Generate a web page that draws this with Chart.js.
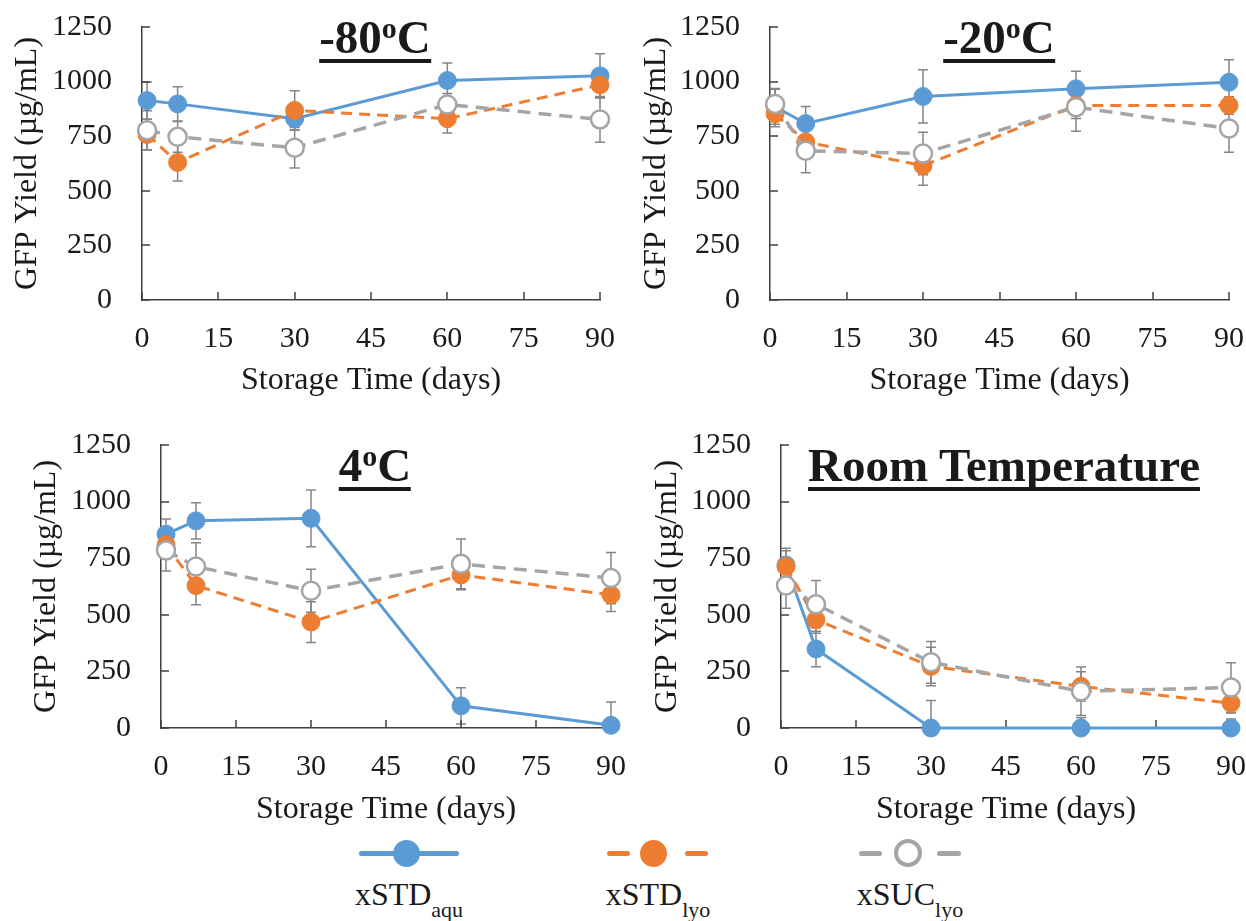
<!DOCTYPE html>
<html><head><meta charset="utf-8">
<script src="https://cdn.jsdelivr.net/npm/chart.js@4.4.0/dist/chart.umd.min.js"></script>
<style>
html,body{margin:0;padding:0;background:#fff;}
#wrap{position:relative;width:1246px;height:921px;overflow:hidden;font-family:'Liberation Serif','Times New Roman',serif;color:#1a1a1a;}
canvas{position:absolute;}
.ttl{position:absolute;font-weight:bold;font-size:47px;line-height:43px;white-space:nowrap;border-bottom:4px solid #1a1a1a;transform:translateX(-50%);}
.ttl sup{font-size:30px;line-height:0;vertical-align:15px;}
.lg{position:absolute;font-size:32px;line-height:32px;white-space:nowrap;transform:translateX(-50%);}
.lg sub{font-size:22px;line-height:0;vertical-align:-12px;}
.sym{position:absolute;box-sizing:border-box;}
</style>
</head><body>
<div id="wrap">
  <canvas id="c1"></canvas><canvas id="c2"></canvas><canvas id="c3"></canvas><canvas id="c4"></canvas>
  <div class="ttl" style="left:375px;top:16px;">-80<sup>o</sup>C</div>
  <div class="ttl" style="left:999px;top:16px;">-20<sup>o</sup>C</div>
  <div class="ttl" style="left:375px;top:444px;">4<sup>o</sup>C</div>
  <div class="ttl" style="left:1004px;top:444px;">Room Temperature</div>

  <div class="sym" style="left:359px;top:850.5px;width:100px;height:5px;border-radius:2.5px;background:#5B9BD5;"></div>
  <div class="sym" style="left:393px;top:839.5px;width:27px;height:27px;border-radius:50%;background:#5B9BD5;"></div>
  <div class="sym" style="left:607px;top:850.5px;width:23px;height:5px;border-radius:2.5px;background:#ED7D31;"></div>
  <div class="sym" style="left:685px;top:850.5px;width:23px;height:5px;border-radius:2.5px;background:#ED7D31;"></div>
  <div class="sym" style="left:639.5px;top:839.5px;width:27px;height:27px;border-radius:50%;background:#ED7D31;"></div>
  <div class="sym" style="left:859px;top:850.5px;width:23px;height:5px;border-radius:2.5px;background:#A5A5A5;"></div>
  <div class="sym" style="left:937px;top:850.5px;width:24px;height:5px;border-radius:2.5px;background:#A5A5A5;"></div>
  <div class="sym" style="left:894px;top:839px;width:28px;height:28px;border-radius:50%;background:#fff;border:4px solid #A5A5A5;"></div>

  <div class="lg" style="left:409px;top:878px;">xSTD<sub>aqu</sub></div>
  <div class="lg" style="left:658px;top:878px;">xSTD<sub>lyo</sub></div>
  <div class="lg" style="left:910px;top:878px;">xSUC<sub>lyo</sub></div>
</div>
<script>
// ---- data ----
const days = [1, 7, 30, 60, 90];
const xTickValues = [0, 15, 30, 45, 60, 75, 90];
const yTickValues = [0, 250, 500, 750, 1000, 1250];
const xAxisTitle = 'Storage Time (days)';
const yAxisTitle = 'GFP Yield (µg/mL)';

// -80 °C
const aqu80 = [913, 898, 830, 1005, 1027];
const aqu80Err = [85, 78, 53, 80, 100];
const lyo80 = [758, 630, 868, 830, 985];
const lyo80Err = [70, 85, 90, 65, 60];
const suc80 = [777, 747, 697, 895, 827];
const suc80Err = [90, 70, 93, 50, 105];

// -20 °C
const aqu20 = [885, 808, 932, 967, 997];
const aqu20Err = [80, 78, 122, 80, 103];
const lyo20 = [853, 724, 615, 891, 891];
const lyo20Err = [60, 70, 90, 60, 40];
const suc20 = [898, 683, 671, 883, 785];
const suc20Err = [70, 100, 97, 110, 109];

// 4 °C
const aqu4 = [856, 915, 926, 98, 12];
const aqu4Err = [67, 80, 125, 80, 103];
const lyo4 = [809, 629, 468, 676, 588];
const lyo4Err = [60, 85, 90, 65, 73];
const suc4 = [784, 713, 606, 725, 662];
const suc4Err = [90, 105, 95, 110, 113];

// Room temperature
const aquRT = [720, 349, 0, 0, 0];
const aquRTErr = [74, 78, 122, 45, 40];
const lyoRT = [713, 478, 272, 184, 110];
const lyoRTErr = [70, 60, 85, 65, 44];
const sucRT = [629, 547, 290, 162, 179];
const sucRTErr = [100, 104, 92, 107, 109];

// ---- layout / style ----
const FONT = "'Liberation Serif','Times New Roman',serif";
const TXT = '#1a1a1a';
const AXIS = '#404040';
const BLUE = '#5B9BD5', ORANGE = '#ED7D31', GRAY = '#A5A5A5';

const panels = [
  {id:'c1', canvas:[0,0,620,400], area:[142,27,600,300], yTitleX:28, xTitleY:381,
   series:[[aqu80,aqu80Err],[lyo80,lyo80Err],[suc80,suc80Err]]},
  {id:'c2', canvas:[620,0,626,400], area:[770,27,1229,300], yTitleX:657, xTitleY:381,
   series:[[aqu20,aqu20Err],[lyo20,lyo20Err],[suc20,suc20Err]]},
  {id:'c3', canvas:[0,410,640,420], area:[161,445,611,728], yTitleX:47, xTitleY:810,
   series:[[aqu4,aqu4Err],[lyo4,lyo4Err],[suc4,suc4Err]]},
  {id:'c4', canvas:[640,410,606,420], area:[781,445,1231,728], yTitleX:668, xTitleY:810,
   series:[[aquRT,aquRTErr],[lyoRT,lyoRTErr],[sucRT,sucRTErr]]},
];

const errorBars = {
  id:'errorBars',
  beforeDatasetsDraw(chart){
    const {ctx, chartArea:a, scales:{x, y}} = chart;
    ctx.save();
    ctx.beginPath();
    ctx.rect(a.left-30, a.top-60, a.right-a.left+60, a.bottom-a.top+60);
    ctx.clip();
    ctx.strokeStyle = '#858585';
    ctx.lineWidth = 1.5;
    chart.data.datasets.forEach(ds => {
      ds.data.forEach((p, i) => {
        const e = ds.errors[i];
        const px = x.getPixelForValue(p.x);
        const t = y.getPixelForValue(p.y + e), b = y.getPixelForValue(p.y - e);
        ctx.beginPath();
        ctx.moveTo(px, t); ctx.lineTo(px, b);
        ctx.moveTo(px-5, t); ctx.lineTo(px+5, t);
        ctx.moveTo(px-5, b); ctx.lineTo(px+5, b);
        ctx.stroke();
      });
    });
    ctx.restore();
  }
};

const innerTicks = {
  id:'innerTicks',
  beforeDatasetsDraw(chart){
    const {ctx, chartArea:a, scales:{x, y}} = chart;
    ctx.save();
    ctx.strokeStyle = AXIS;
    ctx.lineWidth = 1.5;
    ctx.beginPath();
    x.ticks.forEach(t => { const px = Math.round(x.getPixelForValue(t.value)); ctx.moveTo(px, a.bottom); ctx.lineTo(px, a.bottom-8); });
    y.ticks.forEach(t => { const py = Math.round(y.getPixelForValue(t.value)); ctx.moveTo(a.left, py); ctx.lineTo(a.left+8, py); });
    ctx.stroke();
    ctx.restore();
  }
};

const styles = [
  {color:BLUE, fill:BLUE, dash:[], width:3, order:2, pbw:1},
  {color:ORANGE, fill:ORANGE, dash:[11,7], width:3, order:1, pbw:1},
  {color:GRAY, fill:'#ffffff', dash:[13,8], width:3.5, order:0, pbw:2.5},
];

panels.forEach(p => {
  const [cx, cy, cw, ch] = p.canvas;
  const [al, at, ar, ab] = p.area;
  const cv = document.getElementById(p.id);
  cv.width = cw; cv.height = ch;
  cv.style.left = cx + 'px'; cv.style.top = cy + 'px';
  cv.style.width = cw + 'px'; cv.style.height = ch + 'px';
  const yWidth = al - cx, xHeight = cy + ch - ab;
  const yTitlePad = Math.max(0, p.yTitleX - cx - 19.2);
  const xTitlePad = Math.max(0, cy + ch - p.xTitleY - 19.2);

  const datasets = p.series.map((s, k) => {
    const st = styles[k];
    return {
      data: days.map((d, i) => ({x:d, y:s[0][i]})),
      errors: s[1],
      borderColor: st.color,
      backgroundColor: st.fill,
      borderWidth: st.width,
      borderDash: st.dash,
      pointRadius: 9,
      pointBorderWidth: st.pbw,
      pointBorderColor: st.color,
      pointBackgroundColor: st.fill,
      tension: 0,
      fill: false,
      clip: false,
      order: st.order,
    };
  });

  new Chart(cv, {
    type:'line',
    data:{datasets},
    plugins:[errorBars, innerTicks],
    options:{
      responsive:false,
      animation:false,
      devicePixelRatio:1,
      layout:{autoPadding:false, padding:{left:0, top:at-cy, right:cx+cw-ar, bottom:0}},
      plugins:{legend:{display:false}, tooltip:{enabled:false}},
      scales:{
        x:{
          type:'linear', min:0, max:90,
          afterBuildTicks: s => { s.ticks = xTickValues.map(v => ({value:v})); },
          afterFit: s => { s.height = xHeight; s.paddingLeft = 0; s.paddingRight = 0; s.paddingTop = 0; s.paddingBottom = 0; },
          grid:{display:false, drawTicks:false},
          border:{display:true, color:AXIS, width:1.5},
          ticks:{padding:21, color:TXT, font:{family:FONT, size:30}, maxRotation:0, autoSkip:false,
                 callback: v => String(v)},
          title:{display:true, text:xAxisTitle, color:TXT, font:{family:FONT, size:32}, padding:{top:0, bottom:xTitlePad}},
        },
        y:{
          type:'linear', min:0, max:1250,
          afterBuildTicks: s => { s.ticks = yTickValues.map(v => ({value:v})); },
          afterFit: s => { s.width = yWidth; s.paddingLeft = 0; s.paddingRight = 0; s.paddingTop = 0; s.paddingBottom = 0; },
          grid:{display:false, drawTicks:false},
          border:{display:true, color:AXIS, width:1.5},
          ticks:{padding:30, color:TXT, font:{family:FONT, size:30}, callback: v => String(v)},
          title:{display:true, text:yAxisTitle, color:TXT, font:{family:FONT, size:32}, padding:{top:yTitlePad, bottom:0}},
        }
      }
    }
  });
});
</script>
</body></html>
